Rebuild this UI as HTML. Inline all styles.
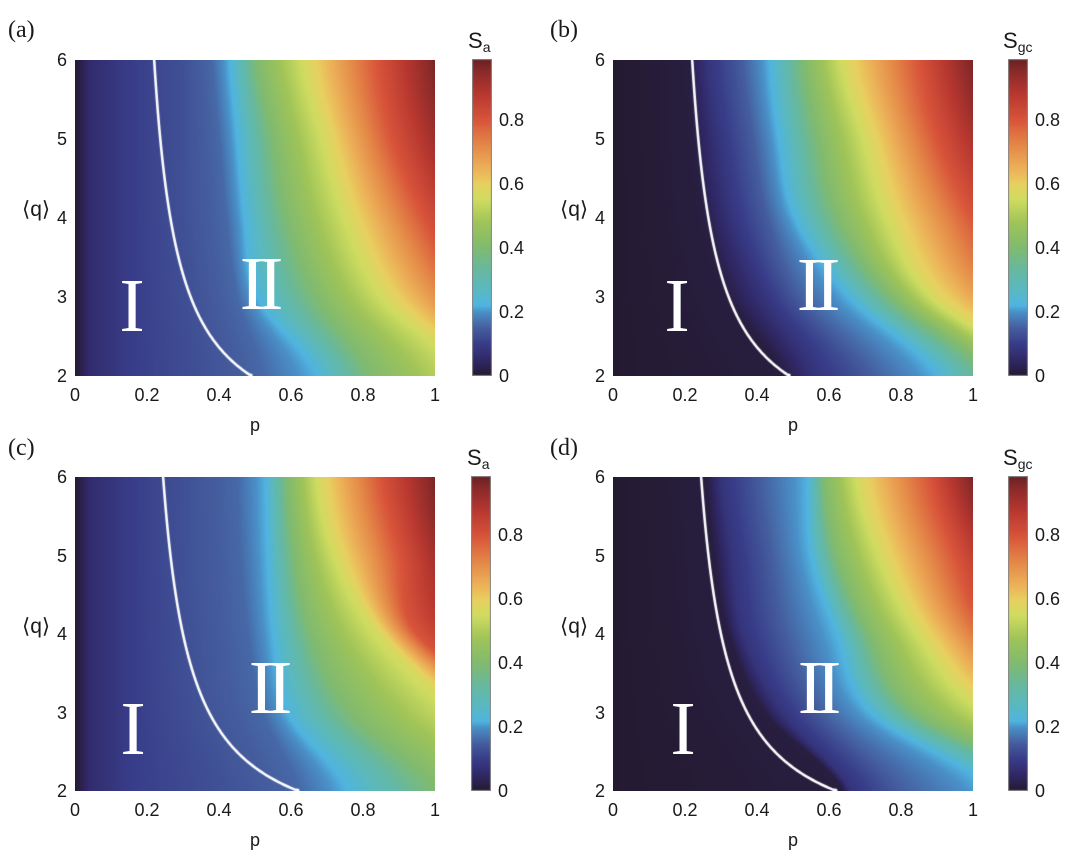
<!DOCTYPE html>
<html><head><meta charset="utf-8">
<style>
body{margin:0;background:#fff;width:1080px;height:866px;position:relative;overflow:hidden;font-family:"Liberation Sans",Arial,sans-serif;color:#1a1a1a}
.t{position:absolute;font-size:18px;line-height:18px;white-space:nowrap}
.yl{text-align:right;width:30px}
.xl{text-align:center;width:40px}
.pl{position:absolute;font-family:"Liberation Serif",serif;font-size:24px;line-height:24px}
.rn{position:absolute;font-family:"Liberation Serif",serif;color:#fff;font-size:76px;line-height:76px;text-align:center;width:100px}
canvas{position:absolute}
.ti{position:absolute;font-size:22px;line-height:22px}
.ti sub{font-size:14px;vertical-align:-4px}
</style></head><body>
<canvas id="ca" width="360" height="316" style="left:75px;top:60px"></canvas>
<canvas id="cb" width="360" height="316" style="left:613px;top:60px"></canvas>
<canvas id="cc" width="360" height="314" style="left:75px;top:477px"></canvas>
<canvas id="cd" width="360" height="314" style="left:613px;top:477px"></canvas>
<canvas id="bar1" width="20" height="317" style="left:472px;top:59px"></canvas>
<canvas id="bar2" width="20" height="317" style="left:1008px;top:59px"></canvas>
<canvas id="bar3" width="20" height="315" style="left:471px;top:476px"></canvas>
<canvas id="bar4" width="20" height="315" style="left:1008px;top:476px"></canvas>

<div class="pl" style="left:8px;top:18px">(a)</div>
<div class="pl" style="left:550px;top:18px">(b)</div>
<div class="pl" style="left:8px;top:436px">(c)</div>
<div class="pl" style="left:550px;top:436px">(d)</div>

<div class="ti" style="left:468px;top:30px">S<sub>a</sub></div>
<div class="ti" style="left:1003px;top:30px">S<sub>gc</sub></div>
<div class="ti" style="left:467px;top:447px">S<sub>a</sub></div>
<div class="ti" style="left:1003px;top:447px">S<sub>gc</sub></div>

<div class="rn" style="left:82px;top:268px">I</div>
<div class="rn" style="left:208px;top:246px;letter-spacing:-7px">II</div>
<div class="rn" style="left:627px;top:268px">I</div>
<div class="rn" style="left:765px;top:247px;letter-spacing:-7px">II</div>
<div class="rn" style="left:83px;top:691px">I</div>
<div class="rn" style="left:217px;top:650px;letter-spacing:-7px">II</div>
<div class="rn" style="left:633px;top:691px">I</div>
<div class="rn" style="left:766px;top:650px;letter-spacing:-7px">II</div>

<div id="labels"></div>

<script>
var CM=[[0,0x24,0x1a,0x30],[0.05,0x30,0x28,0x66],[0.1,0x38,0x3c,0x88],[0.15,0x45,0x5e,0x9e],[0.2,0x4a,0x90,0xc8],[0.22,0x50,0xb4,0xe0],[0.27,0x5a,0xb8,0xc0],[0.33,0x66,0xb8,0xa0],[0.4,0x80,0xba,0x70],[0.48,0xa0,0xc4,0x58],[0.55,0xce,0xdc,0x60],[0.6,0xe8,0xd0,0x60],[0.65,0xec,0xb0,0x58],[0.72,0xe4,0x88,0x48],[0.8,0xd8,0x54,0x3a],[0.88,0xb8,0x38,0x30],[0.95,0x8c,0x2a,0x2a],[1,0x5e,0x1e,0x22]];
function cmap(v){if(v<=0)return CM[0].slice(1);if(v>=1)return CM[CM.length-1].slice(1);
for(var i=1;i<CM.length;i++){if(v<=CM[i][0]){var a=CM[i-1],b=CM[i],t=(v-a[0])/(b[0]-a[0]);return [a[1]+(b[1]-a[1])*t,a[2]+(b[2]-a[2])*t,a[3]+(b[3]-a[3])*t];}}}
function f5(a){return [a,a,a,a,a];}
function cr(arr,s){var n=arr.length-1;if(s<=0)return arr[0];if(s>=n)return arr[n];var k=Math.floor(s),t=s-k;
 var p0=arr[Math.max(0,k-1)],p1=arr[k],p2=arr[k+1],p3=arr[Math.min(n,k+2)];
 return 0.5*((2*p1)+(-p0+p2)*t+(2*p0-5*p1+4*p2-p3)*t*t+(-p0+3*p1-3*p2+p3)*t*t*t);}
var P={
a:{lv:[[0.06,f5(.04)],[0.10,f5(.15)],[0.13,[.30,.30,.30,.32,.35]],[0.16,[.38,.40,.42,.45,.52]],[0.22,[.43,.45,.47,.505,.67]],[0.40,[.505,.55,.59,.67,.82]],[0.57,[.645,.70,.765,.87,1.1]],[0.80,[.84,.88,.97,1.1,1.3]],[0.97,[1.0,1.05,1.15,1.3,1.5]]],
 ln:[.1525,.3375,1]},
b:{lv:[[0.015,[.21,.22,.25,.32,.47]],[0.08,[.26,.29,.33,.42,.56]],[0.15,[.36,.39,.43,.52,.72]],[0.22,[.435,.46,.505,.655,.9]],[0.40,[.53,.57,.625,.775,1.05]],[0.57,[.645,.71,.775,.895,1.2]],[0.80,[.85,.9,1.0,1.15,1.5]],[0.97,[1.0,1.07,1.2,1.35,1.8]]],
 ln:[.1525,.3375,1]},
c:{lv:[[0.06,f5(.04)],[0.10,f5(.15)],[0.13,[.30,.30,.31,.33,.40]],[0.16,[.45,.46,.48,.52,.62]],[0.22,[.53,.535,.55,.59,.755]],[0.40,[.59,.61,.655,.765,1.0]],[0.57,[.68,.73,.85,1.07,1.35]],[0.80,[.85,.9,.95,1.25,1.6]],[0.97,[1.0,1.05,1.15,1.45,1.9]]],
 ln:[.167,.376,1.17]},
d:{lv:[[0.015,[.26,.28,.32,.42,.64]],[0.08,[.30,.33,.36,.47,.66]],[0.15,[.41,.44,.48,.58,.8]],[0.22,[.54,.55,.62,.715,1.05]],[0.40,[.585,.62,.71,.84,1.25]],[0.57,[.685,.75,.86,1.05,1.5]],[0.80,[.88,.95,1.05,1.3,1.8]],[0.97,[1.0,1.1,1.25,1.5,2.0]]],
 ln:[.167,.376,1.17]}};
function draw(id,d){var c=document.getElementById('c'+id);if(!c.getContext)return;var x=c.getContext('2d'),W=c.width,H=c.height,img=x.createImageData(W,H),D=img.data;
for(var j=0;j<H;j++){var q=6-4*(j+0.5)/H,s=6-q;
 var kn=[[0,0]],prev=0;for(var m=0;m<d.lv.length;m++){var pp=Math.max(prev+0.002,cr(d.lv[m][1],s));prev=pp;kn.push([pp,d.lv[m][0]]);}
 for(var i=0;i<W;i++){var p=(i+0.5)/W,v=1;for(var n=1;n<kn.length;n++){if(p<=kn[n][0]){var A=kn[n-1],B=kn[n];v=A[1]+(B[1]-A[1])*(p-A[0])/Math.max(1e-6,B[0]-A[0]);break;}}
  var col=cmap(v),o=(j*W+i)*4;D[o]=col[0];D[o+1]=col[1];D[o+2]=col[2];D[o+3]=255;}}
x.putImageData(img,0,0);
x.strokeStyle='#fff';x.lineWidth=2.6;x.lineCap='round';x.lineJoin='round';x.beginPath();
var L=d.ln;
for(var k=0;k<=200;k++){var q=6-4*k/200,p=L[0]+L[1]/(q-L[2]),yy=(6-q)/4*H,xx=p*W;if(k==0)x.moveTo(xx,yy+1);else x.lineTo(xx,Math.min(yy,H-1));}
x.stroke();}
for(var id in P)draw(id,P[id]);
for(var b=1;b<=4;b++){var c=document.getElementById('bar'+b),x=c.getContext('2d'),H=c.height;
 for(var j=0;j<H;j++){var v=(H-j-0.5)/H*0.99,col=cmap(v);x.fillStyle='rgb('+Math.round(col[0])+','+Math.round(col[1])+','+Math.round(col[2])+')';x.fillRect(0,j,20,1);}
 x.strokeStyle='#888';x.lineWidth=1;x.strokeRect(0.5,0.5,19,H-1);}
var h='';
function t(l,tp,txt,cls){h+='<div class="t '+cls+'" style="left:'+l+'px;top:'+tp+'px">'+txt+'</div>';}
var panels=[[75,60,316,472],[613,60,316,1008],[75,477,314,471],[613,477,314,1008]];
panels.forEach(function(P){var X=P[0],Y=P[1],Hh=P[2],cx=P[3];
 for(var k=0;k<5;k++)t(X-38,Y+k*Hh/4-9,String(6-k),'yl');
 var xs=['0','0.2','0.4','0.6','0.8','1'];for(var k=0;k<6;k++)t(X+k*72-20,Y+Hh+10,xs[k],'xl');
 t(X+160,Y+Hh+40,'p','xl');
 h+='<div class="t" style="left:'+(X-53)+'px;top:'+(Y+139)+'px;font-size:21px;line-height:21px">&#10216;q&#10217;</div>';
 var vs=['0','0.2','0.4','0.6','0.8'];for(var k=0;k<5;k++)t(cx+27,Y+Hh-k*0.2*320-9,vs[k],'');
});
document.getElementById('labels').innerHTML=h;
</script>
</body></html>
